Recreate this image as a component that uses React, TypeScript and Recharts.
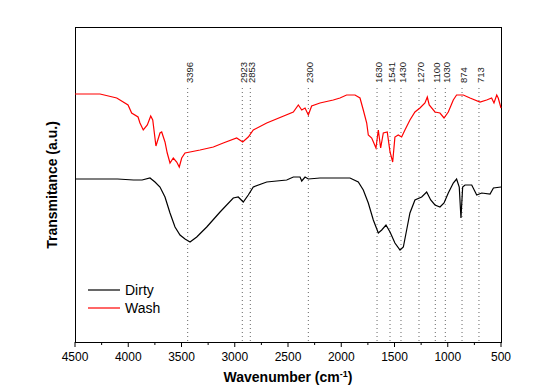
import {
  LineChart,
  Line,
  XAxis,
  YAxis,
  ReferenceLine,
  Legend,
  Customized,
} from 'recharts';

// FTIR spectra, wavenumber (cm-1) vs transmittance (arbitrary units)
const dirtyWn = [
  4500, 4300, 4100, 3950, 3870, 3796, 3749, 3702, 3655, 3608, 3561, 3514, 3467, 3420, 3357, 3263,
  3138, 3014, 2967, 2920, 2873, 2826, 2700, 2512, 2450, 2387, 2371, 2340, 2309, 2200, 2000, 1918,
  1840, 1793, 1746, 1699, 1652, 1620, 1580, 1542, 1496, 1448, 1417, 1386, 1355, 1308, 1245, 1198,
  1160, 1120, 1073, 1035, 995, 948, 917, 892, 876, 860, 838, 775, 728, 681, 603, 571, 500,
];
const dirtyT = [
  163, 163, 163, 162, 162, 164, 160, 155, 145, 129, 115, 107, 103, 100, 105, 115,
  130, 144, 145, 140, 147, 155, 160, 162, 165, 165, 161, 165, 163, 164, 164, 164,
  160, 152, 139, 122, 109, 112, 117, 110, 99, 92, 95, 112, 129, 142, 145, 150,
  142, 137, 135, 139, 149, 159, 163, 155, 124, 155, 157, 157, 147, 149, 148, 154, 155,
];

const washWn = [
  4500, 4265, 4108, 4002, 3968, 3908, 3890, 3859, 3821, 3789, 3770, 3740, 3702, 3686, 3655, 3634,
  3608, 3577, 3545, 3521, 3498, 3467, 3420, 3326, 3201, 3108, 2982, 2925, 2873, 2826, 2700, 2450,
  2403, 2371, 2340, 2309, 2278, 2200, 2075, 2012, 1950, 1871, 1824, 1793, 1761, 1746, 1714, 1674,
  1652, 1630, 1605, 1568, 1542, 1517, 1496, 1465, 1433, 1402, 1355, 1308, 1261, 1214, 1192, 1174,
  1120, 1073, 1035, 995, 948, 917, 854, 791, 697, 635, 588, 566, 540, 526, 500,
];
const washT = [
  248, 248, 244, 237, 229, 225, 219, 212, 217, 226, 222, 196, 209, 210, 200, 189,
  179, 184, 180, 175, 184, 189, 190, 192, 195, 199, 204, 200, 205, 212, 219, 230,
  237, 232, 234, 227, 236, 239, 242, 244, 247, 247, 244, 232, 219, 207, 204, 194,
  212, 194, 209, 210, 190, 180, 205, 207, 205, 212, 222, 230, 234, 239, 245, 237,
  230, 229, 224, 230, 242, 247, 247, 244, 240, 242, 244, 239, 247, 244, 234,
];

const peakPos = [3442, 2929, 2854, 2309, 1664, 1542, 1439, 1270, 1117, 1023, 866, 707];
const peakLabels = ['3396', '2923', '2853', '2300', '1630', '1541', '1430', '1270', '1100', '1030', '874', '713'];

const xTicks = [4500, 4250, 4000, 3750, 3500, 3250, 3000, 2750, 2500, 2250, 2000, 1750, 1500, 1250, 1000, 750, 500];

const FONT = '"Liberation Sans", Arial, sans-serif';
const PEAK_TOP = 254;
const Y_MAX = 315;
const X_MIN = 500;
const X_MAX = 4500;

// chart margins = plot box inside the 543x392 canvas
const M = { top: 27, right: 42, bottom: 0, left: 75 };
const AXIS_H = 50;
const W = 543;
const H = 392;

const rowMap = new Map<number, { wn: number; dirty?: number; wash?: number }>();
dirtyWn.forEach((w, i) => rowMap.set(w, { ...(rowMap.get(w) || { wn: w }), dirty: dirtyT[i] }));
washWn.forEach((w, i) => rowMap.set(w, { ...(rowMap.get(w) || { wn: w }), wash: washT[i] }));
const rows = Array.from(rowMap.values()).sort((a, b) => b.wn - a.wn);

function WnTick({ x, y, payload }: any) {
  const major = payload.value % 500 === 0;
  return (
    <g>
      <line x1={x} x2={x} y1={y} y2={y + (major ? 5 : 3)} stroke="#000" strokeWidth={1} />
      {major && (
        <text x={x} y={y + 19} textAnchor="middle" fontSize={12} fill="#000" fontFamily={FONT}>
          {payload.value}
        </text>
      )}
    </g>
  );
}

const peakLabel = (text: string) => (props: any) => {
  const vb = props.viewBox || {};
  const tx = vb.x + 5;
  const ty = vb.y - 5;
  return (
    <text x={tx} y={ty} transform={`rotate(-90, ${tx}, ${ty})`} fontSize={9.5} fill="#222" fontFamily={FONT}>
      {text}
    </text>
  );
};

function Frame() {
  const w = W - M.left - M.right;
  const h = H - M.top - M.bottom - AXIS_H;
  return (
    <rect x={M.left + 0.5} y={M.top + 0.5} width={w} height={h} fill="none" stroke="#000" strokeWidth={1} />
  );
}

function Titles() {
  return (
    <g fontFamily={FONT} fontWeight="bold" fontSize={14} fill="#000">
      <text x={288} y={382} textAnchor="middle">
        Wavenumber (cm
        <tspan dy={-5} fontSize={9}>-1</tspan>
        <tspan dy={5}>)</tspan>
      </text>
      <text x={57} y={185} transform="rotate(-90, 57, 185)" textAnchor="middle">
        Transmitance (a.u.)
      </text>
    </g>
  );
}

function LegendBox({ payload }: any) {
  return (
    <div style={{ fontFamily: FONT, fontSize: 14, lineHeight: '18px', color: '#000' }}>
      {(payload || []).map((p: any) => (
        <div key={p.value} style={{ display: 'flex', alignItems: 'center', height: 18 }}>
          <svg width={32} height={18}>
            <line x1={0} x2={32} y1={9} y2={9} stroke={p.color} strokeWidth={1.2} />
          </svg>
          <span style={{ marginLeft: 5 }}>{p.value}</span>
        </div>
      ))}
    </div>
  );
}

export default function App() {
  return (
    <div style={{ position: 'absolute', left: 0, top: 0, background: '#fff' }}>
      <LineChart width={W} height={H} data={rows} margin={M}>
        <XAxis
          dataKey="wn"
          type="number"
          domain={[X_MIN, X_MAX]}
          reversed
          ticks={xTicks}
          interval={0}
          tick={<WnTick />}
          tickLine={false}
          tickSize={0}
          tickMargin={0}
          height={AXIS_H}
          axisLine={false}
        />
        <YAxis type="number" domain={[0, Y_MAX]} hide />
        {peakPos.map((p, i) => (
          <ReferenceLine
            key={p}
            segment={[
              { x: p, y: PEAK_TOP },
              { x: p, y: 0 },
            ]}
            stroke="#666"
            strokeDasharray="1 3"
            label={peakLabel(peakLabels[i])}
          />
        ))}
        <Line
          dataKey="dirty"
          name="Dirty"
          stroke="#000"
          strokeWidth={1.2}
          dot={false}
          connectNulls
          isAnimationActive={false}
        />
        <Line
          dataKey="wash"
          name="Wash"
          stroke="#ff0000"
          strokeWidth={1.2}
          dot={false}
          connectNulls
          isAnimationActive={false}
        />
        <Legend
          layout="vertical"
          align="center"
          verticalAlign="middle"
          content={<LegendBox />}
          wrapperStyle={{ left: 88, top: 281, width: 100 }}
        />
        <Customized component={<Frame />} />
        <Customized component={<Titles />} />
      </LineChart>
    </div>
  );
}
